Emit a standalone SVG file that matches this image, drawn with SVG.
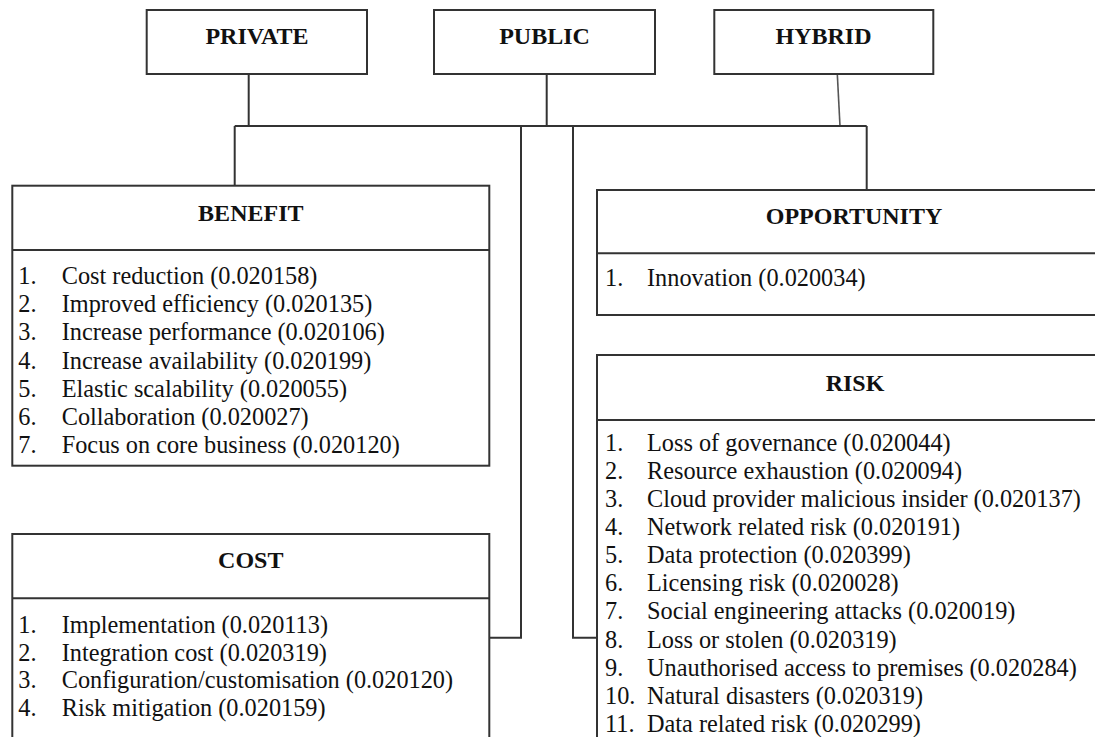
<svg xmlns="http://www.w3.org/2000/svg" width="1095" height="737" viewBox="0 0 1095 737">
  <style>
    .box { fill: #fff; stroke: #333; stroke-width: 2; }
    .rule { stroke: #333; stroke-width: 2; fill: none; }
    .wire { stroke: #333; stroke-width: 2; fill: none; }
    .wire-light { stroke: #555; stroke-width: 1.6; fill: none; }
    .head { font-family: "Liberation Serif", "Times New Roman", serif; font-weight: bold; font-size: 24px; fill: #111; text-anchor: middle; }
    .item { font-family: "Liberation Serif", "Times New Roman", serif; font-size: 24.3px; fill: #111; }
  </style>

  <rect x="0" y="0" width="1095" height="737" fill="#fff"/>

  <!-- connectors -->
  <g id="connectors">
    <path class="wire" d="M248.7 74 V126"/>
    <path class="wire" d="M546.7 74 V126"/>
    <path class="wire-light" d="M837.3 74 L840 126"/>
    <path class="wire" d="M234.7 126 H866.7"/>
    <path class="wire" d="M234.7 126 V185.7"/>
    <path class="wire" d="M866.7 126 V190"/>
    <path class="wire" d="M521 126 V637.7 H489.3"/>
    <path class="wire" d="M573 126 V637.7 H597"/>
  </g>

  <!-- deployment models -->
  <g id="private">
    <rect class="box" x="146.7" y="10" width="220.3" height="64"/>
    <text class="head" x="257" y="44">PRIVATE</text>
  </g>
  <g id="public">
    <rect class="box" x="434" y="10" width="221" height="64"/>
    <text class="head" x="544.5" y="44">PUBLIC</text>
  </g>
  <g id="hybrid">
    <rect class="box" x="714.3" y="10" width="219" height="64"/>
    <text class="head" x="823.5" y="44">HYBRID</text>
  </g>

  <!-- benefit -->
  <g id="benefit">
    <rect class="box" x="12.3" y="185.7" width="477" height="280"/>
    <path class="rule" d="M12.3 250 H489.3"/>
    <text class="head" x="250.8" y="221">BENEFIT</text>
    <g class="item">
      <text x="18.3" y="284.3">1.</text><text x="61.7" y="284.3">Cost reduction (0.020158)</text>
      <text x="18.3" y="312.4">2.</text><text x="61.7" y="312.4">Improved efficiency (0.020135)</text>
      <text x="18.3" y="340.4">3.</text><text x="61.7" y="340.4">Increase performance (0.020106)</text>
      <text x="18.3" y="368.5">4.</text><text x="61.7" y="368.5">Increase availability (0.020199)</text>
      <text x="18.3" y="396.6">5.</text><text x="61.7" y="396.6">Elastic scalability (0.020055)</text>
      <text x="18.3" y="424.7">6.</text><text x="61.7" y="424.7">Collaboration (0.020027)</text>
      <text x="18.3" y="452.7">7.</text><text x="61.7" y="452.7">Focus on core business (0.020120)</text>
    </g>
  </g>

  <!-- cost -->
  <g id="cost">
    <rect class="box" x="12.3" y="534" width="477" height="230"/>
    <path class="rule" d="M12.3 598.3 H489.3"/>
    <text class="head" x="250.8" y="568.3">COST</text>
    <g class="item">
      <text x="18.3" y="632.7">1.</text><text x="61.7" y="632.7">Implementation (0.020113)</text>
      <text x="18.3" y="660.5">2.</text><text x="61.7" y="660.5">Integration cost (0.020319)</text>
      <text x="18.3" y="688.3">3.</text><text x="61.7" y="688.3">Configuration/customisation (0.020120)</text>
      <text x="18.3" y="716.1">4.</text><text x="61.7" y="716.1">Risk mitigation (0.020159)</text>
    </g>
  </g>

  <!-- opportunity -->
  <g id="opportunity">
    <rect class="box" x="597" y="190" width="520" height="125"/>
    <path class="rule" d="M597 253.3 H1117"/>
    <text class="head" x="854" y="224">OPPORTUNITY</text>
    <g class="item">
      <text x="605" y="286">1.</text><text x="647" y="286">Innovation (0.020034)</text>
    </g>
  </g>

  <!-- risk -->
  <g id="risk">
    <rect class="box" x="597" y="355" width="520" height="400"/>
    <path class="rule" d="M597 420 H1117"/>
    <text class="head" x="855" y="390.7">RISK</text>
    <g class="item">
      <text x="605" y="451">1.</text><text x="647" y="451">Loss of governance (0.020044)</text>
      <text x="605" y="479.1">2.</text><text x="647" y="479.1">Resource exhaustion (0.020094)</text>
      <text x="605" y="507.1">3.</text><text x="647" y="507.1">Cloud provider malicious insider (0.020137)</text>
      <text x="605" y="535.2">4.</text><text x="647" y="535.2">Network related risk (0.020191)</text>
      <text x="605" y="563.3">5.</text><text x="647" y="563.3">Data protection (0.020399)</text>
      <text x="605" y="591.4">6.</text><text x="647" y="591.4">Licensing risk (0.020028)</text>
      <text x="605" y="619.4">7.</text><text x="647" y="619.4">Social engineering attacks (0.020019)</text>
      <text x="605" y="647.5">8.</text><text x="647" y="647.5">Loss or stolen (0.020319)</text>
      <text x="605" y="675.6">9.</text><text x="647" y="675.6">Unauthorised access to premises (0.020284)</text>
      <text x="605" y="703.6">10.</text><text x="647" y="703.6">Natural disasters (0.020319)</text>
      <text x="605" y="731.7">11.</text><text x="647" y="731.7">Data related risk (0.020299)</text>
    </g>
  </g>
</svg>
